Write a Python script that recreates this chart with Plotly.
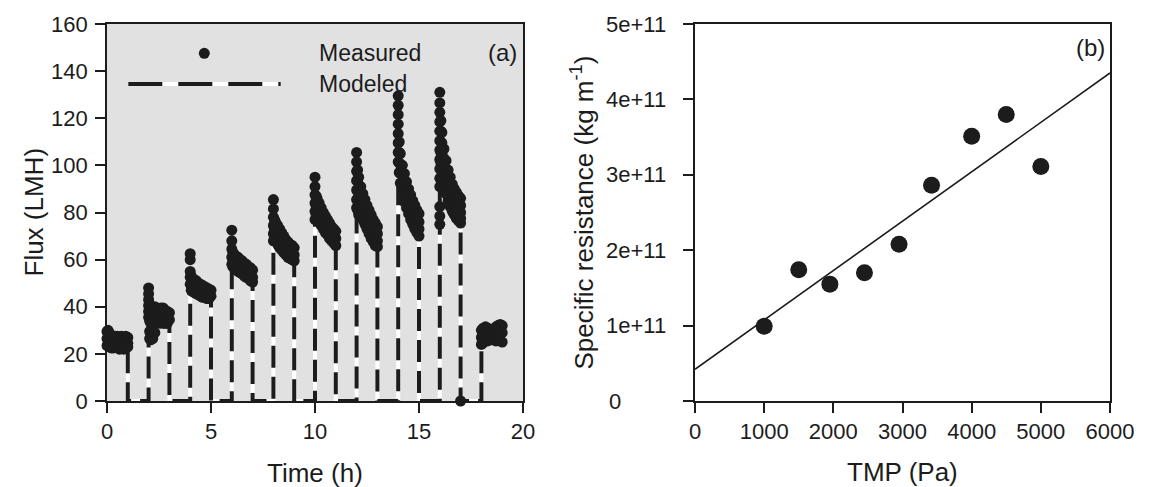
import plotly.graph_objects as go

# ---------------- Panel (a): flux vs time ----------------
filtration_starts = [0, 2, 4, 6, 8, 10, 12, 14, 16, 18]          # h
meas_offsets = [0.0, 0.05, 0.1, 0.2, 0.3, 0.4, 0.5, 0.6, 0.7, 0.8, 0.9, 1.0]  # h after start

meas_seg0 = [[29.5, 26.5, 23.5], [30, 27, 24], [29, 26, 23], [28, 25, 22.5], [27, 24.5, 22.5],
             [27.5, 25, 23], [27.5, 25, 22.5], [27, 24.5, 22], [27.5, 25, 22.5], [27, 24.5, 22],
             [27.5, 25, 22.5], [27, 24.5, 23]]
meas_seg2 = [[48, 45.5, 43, 40.5, 38, 35.5], [41, 37.5, 34, 29.5, 26.5], [40, 36.5, 33, 29, 26],
             [39.5, 36, 33, 28.5, 26.5], [40, 36.5, 29], [39.5, 36], [39, 35.5, 33],
             [39.5, 36, 33.5], [39.5, 36, 33], [38.5, 35.5, 33], [38, 35, 33], [37.5, 34.5]]
meas_seg4 = [[62.5, 60, 55, 52.5, 49.5], [53, 50, 47], [52, 49, 46.5], [51.5, 48.5, 46],
             [51, 48, 45.5], [50, 47.5, 45], [49.5, 47, 44.5], [49, 46.5, 44], [48.5, 46, 44],
             [48, 45.5, 43.5], [47.5, 45.5, 43.5], [47, 44.5]]
meas_seg6 = [[72.5, 68, 64.5, 61, 58], [63, 60, 57], [62.5, 59.5, 56.5], [61.5, 58.5, 56],
             [61, 58, 55], [60, 57.5, 54.5], [59.5, 57, 54], [58.5, 56, 53], [58, 55, 52.5],
             [57, 54.5, 52], [56.5, 53.5, 51], [55.5, 52.5, 50.5]]
meas_seg8 = [[85.5, 81.5, 78, 74.5, 71, 68], [77, 73, 69], [76, 72, 68], [74.5, 70.5, 66.5],
             [73, 69, 65], [71.5, 67.5, 64], [70, 66.5, 63], [68.5, 65, 62], [67.5, 64, 61],
             [66.5, 63, 60.5], [66, 62.5, 60], [65, 62, 59.5]]
meas_seg10 = [[95, 91, 87.5, 84, 80.5, 77], [87, 83, 79], [86, 82, 78], [84, 80, 76],
              [82, 78, 74.5], [80, 76.5, 73], [78.5, 75, 71.5], [77, 73.5, 70.5], [75.5, 72, 69],
              [74, 71, 68], [73, 70, 67], [72, 69, 66]]
meas_seg12 = [[105.5, 101.5, 97.5, 93.5, 89.5, 85.5, 82], [98, 93.5, 89, 85, 81],
              [95, 90.5, 86.5, 82.5, 79], [91, 87, 83, 79.5], [88, 84, 80, 77], [85.5, 82, 78, 75],
              [83, 79.5, 76, 73], [81, 77.5, 74, 71], [79, 75.5, 72, 69], [77, 74, 70.5, 67.5],
              [75.5, 72.5, 69, 66], [74, 71, 68, 65.5]]
meas_seg14 = [[129.5, 125.5, 121.5, 117.5, 113.5, 109.5, 105.5, 101.5], [110, 105.5, 101, 97],
              [105, 100.5, 96.5, 92.5], [100, 96, 92, 88], [96.5, 92.5, 88.5, 84.5],
              [93, 89, 85.5, 82], [90, 86.5, 83, 79.5], [87.5, 84, 80.5, 77], [85, 81.5, 78, 75],
              [83, 79.5, 76, 73], [81, 77.5, 74.5, 71.5], [79.5, 76, 73, 70]]
meas_seg16 = [[131, 126.5, 122.5, 118.5, 114.5, 110.5, 106.5, 102.5, 98.5, 94.5, 91, 82.5, 78.5, 75],
              [119, 114.5, 110, 105.5, 101], [114, 109.5, 105, 101, 97], [107, 103, 99, 95, 91.5],
              [102, 98, 94.5, 91, 88], [98, 94.5, 91, 88, 85], [95, 91.5, 88.5, 85.5, 82.5],
              [92, 89, 86, 83, 80.5], [90, 87, 84, 81, 79], [88.5, 85.5, 82.5, 80, 77.5],
              [87, 84, 81, 78.5, 76.5], [86, 83, 80, 77.5, 75.5, 0]]
meas_seg18 = [[30, 27, 24], [30.5, 27.5, 24.5], [31, 28, 25], [31.5, 28.5, 25.5], [31, 28, 25.5],
              [30, 27.5, 26], [30, 28, 26], [30.5, 28, 26], [31.5, 28.5, 25.5], [32, 29, 26],
              [32.5, 29.5, 25.5], [32, 29, 25]]
measured_segments = [meas_seg0, meas_seg2, meas_seg4, meas_seg6, meas_seg8,
                     meas_seg10, meas_seg12, meas_seg14, meas_seg16, meas_seg18]

model_offsets = [0.0, 0.1, 0.2, 0.35, 0.5, 0.75, 1.0]
model_seg0 = [27, 26.5, 26, 25.5, 25.5, 25, 25]
model_seg2 = [41, 38.5, 37.5, 36.5, 36, 35, 34.5]
model_seg4 = [51, 48.5, 47.5, 46.5, 46, 45, 44.5]
model_seg6 = [63, 59.5, 57.5, 56, 55, 53.5, 52]
model_seg8 = [76, 71.5, 69.5, 67, 65.5, 63, 61]
model_seg10 = [88, 82, 78, 74, 71, 67.5, 65.5]
model_seg12 = [94, 88.5, 85, 81, 78, 73, 69]
model_seg14 = [113, 97, 92, 87, 83, 77.5, 72.5]
model_seg16 = [123, 108, 100, 94, 88, 82, 78]
model_seg18 = [27, 27, 27.5, 27.5, 28, 28, 28]
model_segments = [model_seg0, model_seg2, model_seg4, model_seg6, model_seg8,
                  model_seg10, model_seg12, model_seg14, model_seg16, model_seg18]
relaxation_flux = 0.0
filtration_length = 1.0

a_xticks = [0, 5, 10, 15, 20]
a_yticks = [0, 20, 40, 60, 80, 100, 120, 140, 160]

# ---------------- Panel (b): specific resistance vs TMP ----------------
tmp_pa = [1000, 1500, 1950, 2450, 2950, 3420, 4000, 4500, 5000]
spec_res = [0.99e11, 1.74e11, 1.55e11, 1.70e11, 2.08e11, 2.86e11, 3.51e11, 3.80e11, 3.11e11]
fit_tmp = [0, 6000]
fit_res = [0.42e11, 4.35e11]
b_xticks = [0, 1000, 2000, 3000, 4000, 5000, 6000]
b_yticks = [0, 1e11, 2e11, 3e11, 4e11, 5e11]
b_ytick_text = ["0", "1e+11", "2e+11", "3e+11", "4e+11", "5e+11"]

# ---------------- build ----------------
FONT = "Liberation Sans, Arial, sans-serif"
INK = "#1c1c1c"
W, H = 1153, 487
OFF = 8  # page body margin offset (px)


def px(x):
    return (x - OFF) / W


def py(y):
    return 1 - (y - OFF) / H


mt, mf = [], []
for start, seg in zip(filtration_starts, measured_segments):
    for off, vals in zip(meas_offsets, seg):
        for v in vals:
            mt.append(start + off)
            mf.append(v)

lt, lf = [], []
for i, (start, seg) in enumerate(zip(filtration_starts, model_segments)):
    if i > 0:
        lt.append(start); lf.append(relaxation_flux)
    for off, v in zip(model_offsets, seg):
        lt.append(start + off); lf.append(v)
    if i < len(filtration_starts) - 1:
        lt.append(start + filtration_length); lf.append(relaxation_flux)

fig = go.Figure()
fig.add_trace(go.Scatter(x=lt, y=lf, mode="lines", line=dict(color="white", width=4),
                         xaxis="x", yaxis="y", showlegend=False))
fig.add_trace(go.Scatter(x=lt, y=lf, mode="lines",
                         line=dict(color=INK, width=4, dash="22px,9px"),
                         xaxis="x", yaxis="y", showlegend=False))
fig.add_trace(go.Scatter(x=mt, y=mf, mode="markers", cliponaxis=False,
                         marker=dict(size=11, color=INK, line=dict(width=0)),
                         xaxis="x", yaxis="y", showlegend=False))

fig.add_trace(go.Scatter(x=fit_tmp, y=fit_res, mode="lines", line=dict(color=INK, width=1.6),
                         xaxis="x2", yaxis="y2", showlegend=False))
fig.add_trace(go.Scatter(x=tmp_pa, y=spec_res, mode="markers", cliponaxis=False,
                         marker=dict(size=17, color=INK, line=dict(width=0)),
                         xaxis="x2", yaxis="y2", showlegend=False))

yd = [py(401), py(24)]
ax_common = dict(showline=True, linecolor=INK, linewidth=1.6, mirror=True, ticks="outside",
                 ticklen=10, tickwidth=1.6, tickcolor=INK, showgrid=False, zeroline=False,
                 automargin=False)

fig.update_layout(
    template="none",
    width=W, height=H, autosize=False,
    margin=dict(l=0, r=0, t=0, b=0, pad=0, autoexpand=False),
    showlegend=False,
    paper_bgcolor="white", plot_bgcolor="rgba(0,0,0,0)",
    font=dict(family=FONT, color=INK),
    xaxis=dict(domain=[px(107), px(523)], range=[0, 20], tickvals=a_xticks,
               tickfont=dict(size=22), anchor="y", **ax_common),
    yaxis=dict(domain=yd, range=[0, 160], tickvals=a_yticks, tickfont=dict(size=22),
               ticklabelstandoff=3, anchor="x", **ax_common),
    xaxis2=dict(domain=[px(695), px(1110)], range=[0, 6000], tickvals=b_xticks,
                tickfont=dict(size=22), anchor="y2", **ax_common),
    yaxis2=dict(domain=yd, range=[0, 5e11], tickvals=b_yticks, showticklabels=False,
                anchor="x2", **ax_common),
    shapes=[
        dict(type="rect", xref="x domain", yref="y domain", x0=0, x1=1, y0=0, y1=1,
             fillcolor="#e1e1e2", line=dict(width=0), layer="below"),
        # legend symbols
        dict(type="circle", xref="paper", yref="paper", xsizemode="pixel", ysizemode="pixel",
             xanchor=px(204.3), yanchor=py(53.3), x0=-5.5, x1=5.5, y0=-5.5, y1=5.5,
             fillcolor=INK, line=dict(width=0)),
        dict(type="line", xref="paper", yref="paper", x0=px(128.3), x1=px(280.7),
             y0=py(84), y1=py(84), line=dict(color="white", width=4)),
        dict(type="line", xref="paper", yref="paper", x0=px(128.3), x1=px(280.7),
             y0=py(84), y1=py(84), line=dict(color=INK, width=4, dash="34px,16px")),
    ],
)

ann = [
    dict(text="Measured", x=px(316.7), y=py(53.3), xanchor="left", yanchor="middle",
         font=dict(size=23)),
    dict(text="Modeled", x=px(316.7), y=py(84), xanchor="left", yanchor="middle",
         font=dict(size=23)),
    dict(text="(a)", x=px(502.5), y=py(53), xanchor="center", yanchor="middle",
         font=dict(size=24)),
    dict(text="(b)", x=px(1090), y=py(47), xanchor="center", yanchor="middle",
         font=dict(size=24)),
    dict(text="Time (h)", x=px(315), y=py(473), xanchor="center", yanchor="middle",
         font=dict(size=26)),
    dict(text="Flux (LMH)", x=px(33), y=py(212.5), xanchor="center", yanchor="middle",
         textangle=-90, font=dict(size=26)),
    dict(text="TMP (Pa)", x=px(902.5), y=py(472), xanchor="center", yanchor="middle",
         font=dict(size=26)),
    dict(text="Specific resistance (kg m<sup>-1</sup>)", x=px(583), y=py(212.5),
         xanchor="center", yanchor="middle", textangle=-90, font=dict(size=26)),
]
for v, t in zip(b_yticks, b_ytick_text):
    if v == 0:
        ann.append(dict(text=t, x=px(607), xref="paper", y=v, yref="y2", xanchor="left",
                        yanchor="middle", font=dict(size=22)))
    else:
        ann.append(dict(text=t, x=px(668), xref="paper", y=v, yref="y2", xanchor="right",
                        yanchor="middle", font=dict(size=22)))
for a in ann:
    a.setdefault("xref", "paper")
    a.setdefault("yref", "paper")
    a["showarrow"] = False
fig.update_layout(annotations=ann)

fig.write_html("out.html")
